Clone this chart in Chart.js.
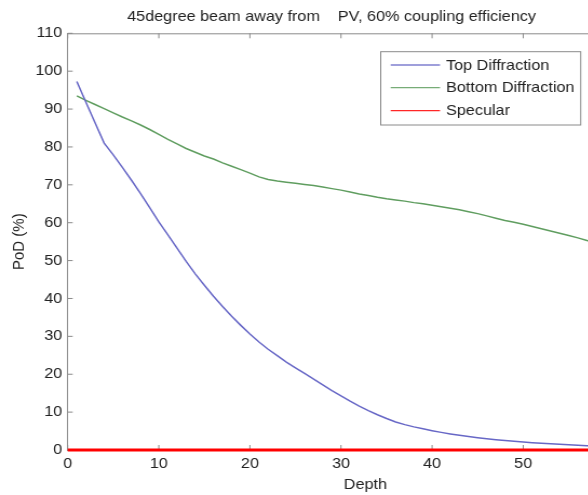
<!DOCTYPE html>
<html>
<head>
<meta charset="utf-8">
<script src="https://cdn.jsdelivr.net/npm/chart.js@4.4.1/dist/chart.umd.min.js"></script>
<style>
  html, body { margin: 0; padding: 0; background: #fff; overflow: hidden; width: 588px; height: 495px; }
  #wrap { width: 588px; height: 495px; overflow: hidden; position: relative; }
  canvas { position: absolute; left: 0; top: 0; transform: scaleX(1.08); transform-origin: 0 0; }
</style>
</head>
<body>
<div id="wrap"><canvas id="c" width="614" height="495"></canvas></div>
<script>
const depth = [1,2,3,4,5,6,7,8,9,10,11,12,13,14,15,16,17,18,19,20,21,22,23,24,25,26,27,28,29,30,31,32,33,34,35,36,37,38,39,40,41,42,43,44,45,46,47,48,49,50,51,52,53,54,55,56,57,58,59,60];
const topDiffraction = [97.3,91.8,86.4,81.0,77.9,74.6,71.2,67.7,64.0,60.2,56.8,53.3,49.8,46.5,43.5,40.6,37.9,35.3,32.9,30.6,28.5,26.6,24.9,23.2,21.7,20.2,18.7,17.2,15.7,14.3,12.9,11.6,10.4,9.3,8.3,7.4,6.7,6.1,5.6,5.1,4.65,4.25,3.88,3.54,3.23,2.96,2.71,2.49,2.29,2.1,1.93,1.78,1.63,1.5,1.38,1.26,1.15,1.05,0.97,0.9];
const bottomDiffraction = [93.5,92.3,91.2,90.1,89.0,87.9,86.9,85.8,84.6,83.3,82.0,80.8,79.6,78.6,77.6,76.8,75.8,74.9,74.0,73.1,72.1,71.4,71.0,70.7,70.4,70.1,69.8,69.4,69.0,68.6,68.1,67.6,67.2,66.7,66.3,66.0,65.7,65.3,65.0,64.6,64.2,63.8,63.4,62.9,62.4,61.8,61.2,60.6,60.1,59.6,59.0,58.4,57.8,57.2,56.6,56.0,55.3,54.7,54.1,53.5];
const specularDepth = [0,60];
const specular = [0,0];
const seriesNames = ['Top Diffraction','Bottom Diffraction','Specular'];
const titleText = '45degree beam away from    PV, 60% coupling efficiency';
const xTicks = [0,10,20,30,40,50,60];
const yTicks = [0,10,20,30,40,50,60,70,80,90,100,110];

const SX = 1.08;
const XMAX = 65.36;
const FONT = "'Liberation Sans', Arial, Helvetica, sans-serif";
const AXC = '#8a8a8a';
const colors = ['#6767c6', '#5f9d5f', '#ff0000'];

const pts = (xs, ys) => xs.map((v, i) => ({x: v, y: ys[i]}));

const frameTicks = {
  id: 'frameTicks',
  beforeDatasetsDraw(chart) {
    const {ctx, chartArea: a, scales: {x, y}} = chart;
    const right = x.getPixelForValue(60);
    ctx.save();
    ctx.strokeStyle = AXC;
    ctx.lineWidth = 1;
    ctx.beginPath();
    ctx.moveTo(a.left, a.top + 0.5); ctx.lineTo(right, a.top + 0.5);
    ctx.moveTo(right, a.top); ctx.lineTo(right, a.bottom);
    const tl = 5;
    xTicks.forEach(v => {
      const px = x.getPixelForValue(v);
      ctx.moveTo(px, a.bottom); ctx.lineTo(px, a.bottom - tl);
      ctx.moveTo(px, a.top); ctx.lineTo(px, a.top + tl);
    });
    yTicks.forEach(v => {
      const py = y.getPixelForValue(v);
      ctx.moveTo(a.left, py); ctx.lineTo(a.left + tl / SX, py);
      ctx.moveTo(right, py); ctx.lineTo(right - tl / SX, py);
    });
    ctx.stroke();
    ctx.restore();
  }
};

const boxLegend = {
  id: 'boxLegend',
  afterDatasetsDraw(chart) {
    const ctx = chart.ctx;
    const L = 380.7 / SX, R = 580.7 / SX, T = 51.7, B = 125;
    ctx.save();
    ctx.fillStyle = '#fff';
    ctx.fillRect(L, T, R - L, B - T);
    ctx.strokeStyle = '#8a8a8a';
    ctx.lineWidth = 1;
    ctx.strokeRect(L, T, R - L, B - T);
    const rows = [65, 87.7, 110.7];
    ctx.font = '15px ' + FONT;
    ctx.textBaseline = 'middle';
    ctx.textAlign = 'left';
    seriesNames.forEach((name, i) => {
      ctx.strokeStyle = colors[i];
      ctx.lineWidth = 1.3;
      ctx.globalAlpha = 0.85;
      ctx.beginPath();
      ctx.moveTo(390.7 / SX, rows[i]);
      ctx.lineTo(440 / SX, rows[i]);
      ctx.stroke();
      ctx.globalAlpha = 1;
      ctx.fillStyle = '#222';
      ctx.fillText(name, 446 / SX, rows[i] + 0.5);
    });
    ctx.restore();
  }
};

new Chart(document.getElementById('c'), {
  type: 'line',
  data: {
    datasets: [
      { label: seriesNames[0], data: pts(depth, topDiffraction), borderColor: colors[0], borderWidth: 1.5, pointRadius: 0, tension: 0, fill: false },
      { label: seriesNames[1], data: pts(depth, bottomDiffraction), borderColor: colors[1], borderWidth: 1.5, pointRadius: 0, tension: 0, fill: false },
      { label: seriesNames[2], data: pts(specularDepth, specular), borderColor: colors[2], borderWidth: 3, pointRadius: 0, tension: 0, fill: false, clip: false }
    ]
  },
  options: {
    responsive: false,
    animation: false,
    devicePixelRatio: 1,
    layout: { padding: 0 },
    plugins: {
      legend: { display: false },
      tooltip: { enabled: false },
      title: {
        display: true,
        text: titleText,
        color: '#222',
        font: { family: FONT, size: 15, weight: 'normal', lineHeight: 1.2 },
        padding: { top: 7.7, bottom: 7.6 }
      }
    },
    scales: {
      x: {
        type: 'linear',
        min: 0, max: XMAX,
        afterBuildTicks: s => { s.ticks = xTicks.map(v => ({value: v})); },
        afterFit: s => { s.height = 45; s.paddingLeft = 0; s.paddingRight = 0; },
        grid: { display: true, drawOnChartArea: false, drawTicks: false },
        border: { display: true, color: AXC, width: 1 },
        ticks: { color: '#222', padding: 5, font: { family: FONT, size: 15 }, maxRotation: 0 },
        title: { display: true, text: 'Depth', color: '#222', font: { family: FONT, size: 15 }, padding: { top: 0, bottom: 1 } }
      },
      y: {
        type: 'linear',
        min: 0, max: 110,
        afterBuildTicks: s => { s.ticks = yTicks.map(v => ({value: v})); },
        afterFit: s => { s.width = 67.7 / SX; s.paddingTop = 0; s.paddingBottom = 0; },
        grid: { display: true, drawOnChartArea: false, drawTicks: false },
        border: { display: true, color: AXC, width: 1 },
        ticks: { color: '#222', padding: 5, font: { family: FONT, size: 15 } },
        title: { display: true, text: 'PoD (%)', color: '#222', font: { family: FONT, size: 15 }, padding: { top: 8.4, bottom: 0 } }
      }
    }
  },
  plugins: [frameTicks, boxLegend]
});
</script>
</body>
</html>
